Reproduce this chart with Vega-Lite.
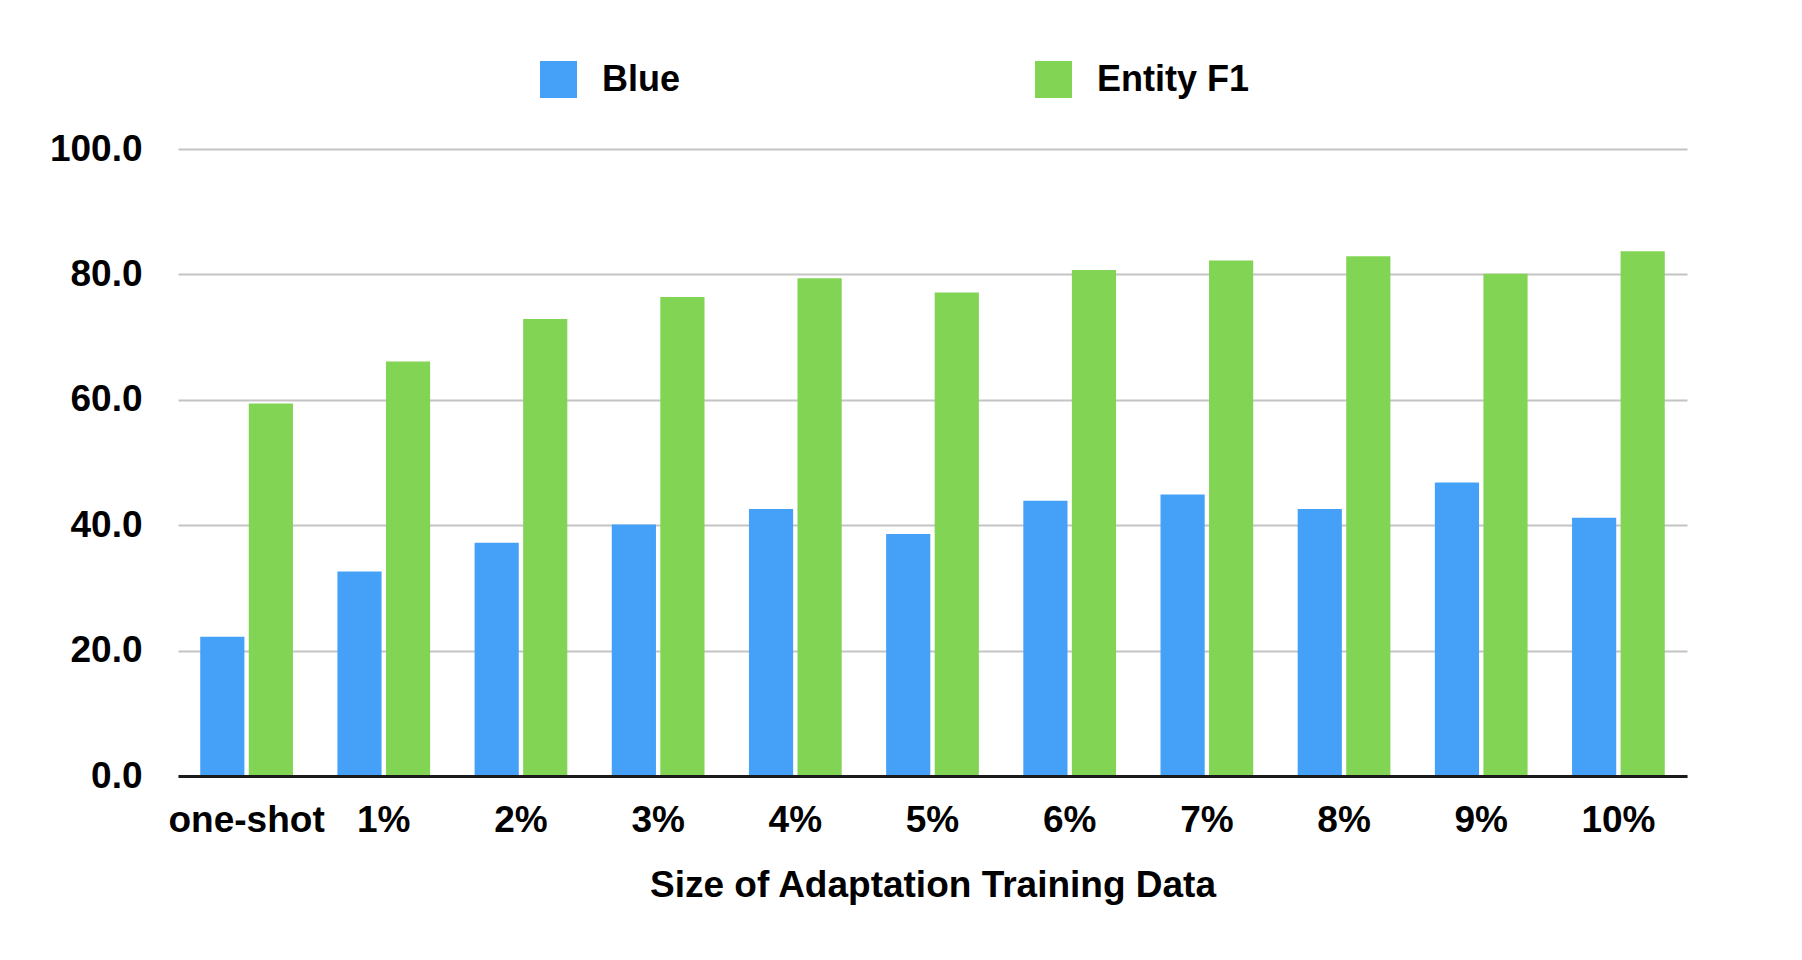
{
  "$schema": "https://vega.github.io/schema/vega-lite/v6.json",
  "width": 1509,
  "height": 627,
  "autosize": {"type": "none"},
  "padding": {"left": 178, "top": 149, "right": 115, "bottom": 184},
  "background": "white",
  "config": {
    "view": {"stroke": null},
    "font": "Liberation Sans"
  },
  "data": {
    "values": [
      {"size": "one-shot", "metric": "Blue", "value": 22.2},
      {"size": "one-shot", "metric": "Entity F1", "value": 59.4},
      {"size": "1%", "metric": "Blue", "value": 32.6},
      {"size": "1%", "metric": "Entity F1", "value": 66.1},
      {"size": "2%", "metric": "Blue", "value": 37.2},
      {"size": "2%", "metric": "Entity F1", "value": 72.9},
      {"size": "3%", "metric": "Blue", "value": 40.1},
      {"size": "3%", "metric": "Entity F1", "value": 76.4},
      {"size": "4%", "metric": "Blue", "value": 42.6},
      {"size": "4%", "metric": "Entity F1", "value": 79.4},
      {"size": "5%", "metric": "Blue", "value": 38.6},
      {"size": "5%", "metric": "Entity F1", "value": 77.1},
      {"size": "6%", "metric": "Blue", "value": 43.9},
      {"size": "6%", "metric": "Entity F1", "value": 80.7},
      {"size": "7%", "metric": "Blue", "value": 44.9},
      {"size": "7%", "metric": "Entity F1", "value": 82.2},
      {"size": "8%", "metric": "Blue", "value": 42.6},
      {"size": "8%", "metric": "Entity F1", "value": 82.9},
      {"size": "9%", "metric": "Blue", "value": 46.8},
      {"size": "9%", "metric": "Entity F1", "value": 80.1},
      {"size": "10%", "metric": "Blue", "value": 41.2},
      {"size": "10%", "metric": "Entity F1", "value": 83.7}
    ]
  },
  "mark": {"type": "bar"},
  "encoding": {
    "x": {
      "field": "size",
      "type": "nominal",
      "sort": ["one-shot", "1%", "2%", "3%", "4%", "5%", "6%", "7%", "8%", "9%", "10%"],
      "scale": {"paddingInner": 0.324, "paddingOuter": 0.162},
      "axis": {
        "title": "Size of Adaptation Training Data",
        "titleFont": "Liberation Sans",
        "titleFontSize": 37,
        "titleFontWeight": "bold",
        "titleColor": "black",
        "titlePadding": 29,
        "labelAngle": 0,
        "labelFont": "Liberation Sans",
        "labelFontSize": 37,
        "labelFontWeight": "bold",
        "labelColor": "black",
        "labelPadding": 26,
        "ticks": false,
        "domainColor": "#1a1a1a",
        "domainWidth": 3,
        "grid": false,
        "zindex": 1
      }
    },
    "xOffset": {
      "field": "metric",
      "type": "nominal",
      "scale": {"paddingInner": 0.09, "paddingOuter": 0}
    },
    "y": {
      "field": "value",
      "type": "quantitative",
      "scale": {"domain": [0, 100]},
      "axis": {
        "title": null,
        "values": [0, 20, 40, 60, 80, 100],
        "format": ".1f",
        "labelFont": "Liberation Sans",
        "labelFontSize": 37,
        "labelFontWeight": "bold",
        "labelColor": "black",
        "labelPadding": 36,
        "ticks": false,
        "domain": false,
        "grid": true,
        "gridColor": "#c4c4c4",
        "gridWidth": 2
      }
    },
    "color": {
      "field": "metric",
      "type": "nominal",
      "scale": {"domain": ["Blue", "Entity F1"], "range": ["#45A1F8", "#82D454"]},
      "legend": {
        "title": null,
        "orient": "none",
        "legendX": 362,
        "legendY": -88,
        "direction": "horizontal",
        "columns": 2,
        "gridAlign": "all",
        "columnPadding": 280,
        "padding": 0,
        "symbolType": "square",
        "symbolSize": 1369,
        "symbolStrokeWidth": 0,
        "labelFont": "Liberation Sans",
        "labelFontSize": 36,
        "labelFontWeight": "bold",
        "labelColor": "black",
        "labelOffset": 25,
        "labelLimit": 400
      }
    }
  }
}
